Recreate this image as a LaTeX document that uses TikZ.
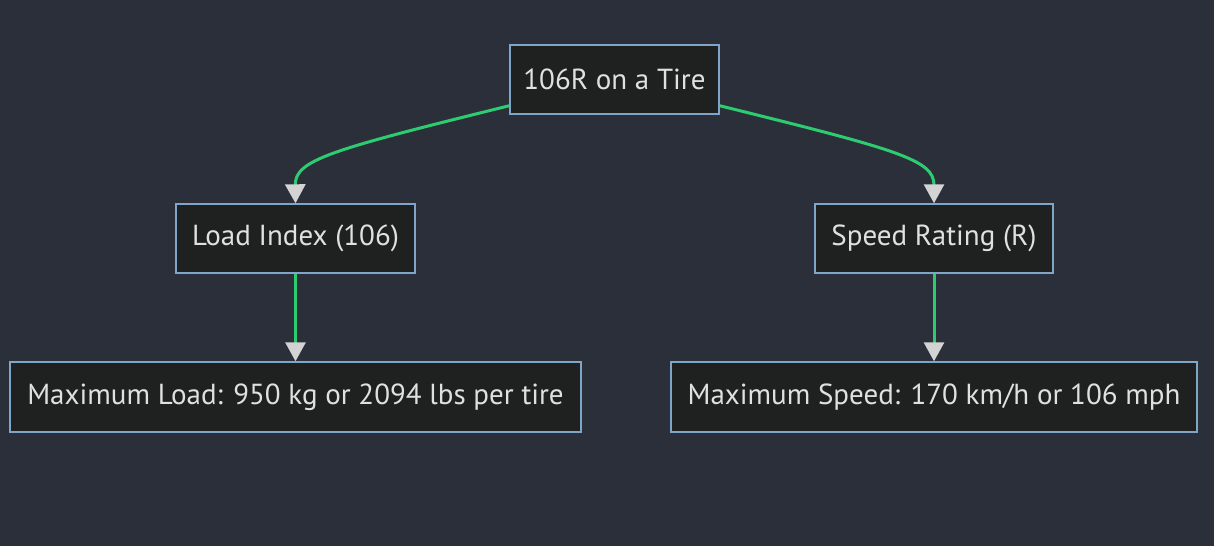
\documentclass[tikz,border=0pt]{standalone}
\usepackage{fontspec}
\setmainfont{PT Sans}
\usetikzlibrary{arrows.meta}
\usetikzlibrary{positioning}
\definecolor{bgdark}{HTML}{2A2F3A}
\definecolor{boxfill}{HTML}{1F2020}
\definecolor{boxline}{HTML}{7FA6C9}
\definecolor{edgegreen}{HTML}{2ECC71}
\definecolor{tipgrey}{HTML}{D3D3D3}
\definecolor{textgrey}{HTML}{E0E0E0}
\begin{document}
\begin{tikzpicture}[x=1pt,y=1pt]
		  \tikzset{
			box/.style={draw=boxline,fill=boxfill,line width=1.4pt,text=textgrey,
			  minimum height=69pt,inner xsep=0pt,
			  font=\fontsize{29}{34}\selectfont},
			link/.style={edgegreen,line width=3pt,
			  -{Triangle[width=20pt,length=19pt,color=tipgrey]}},
		  }
		  %BACKGROUND
		  \fill[bgdark] (0,0) rectangle (1214,546);
		  \useasboundingbox (0,0) rectangle (1214,546);
		  %TOP
		  \node[box,minimum width=209pt] (tire) at (614.5,466.5) {106R on a Tire};
		  %LEVEL 2
		  \node[box,minimum width=239pt] (load) at (295.5,307.5) {Load Index (106)};
		  \node[box,minimum width=238pt] (speed) at (934,307.5) {Speed Rating (R)};
		  %LEVEL 3
		  \node[box,minimum width=571pt,minimum height=70pt] (maxload) at (295.5,149) {Maximum Load: 950 kg or 2094 lbs per tire};
		  \node[box,minimum width=526pt,minimum height=70pt] (maxspeed) at (934,149) {Maximum Speed: 170 km/h or 106 mph};
		  %EDGES
		  \draw[link] (tire.194) .. controls (330,396) and (295,386) .. (load.north);
		  \draw[link] (tire.-14) .. controls (899,396) and (934,386) .. (speed.north);
		  \draw[link] (load) -- (maxload);
		  \draw[link] (speed) -- (maxspeed);
		  \end{tikzpicture}
\end{document}
